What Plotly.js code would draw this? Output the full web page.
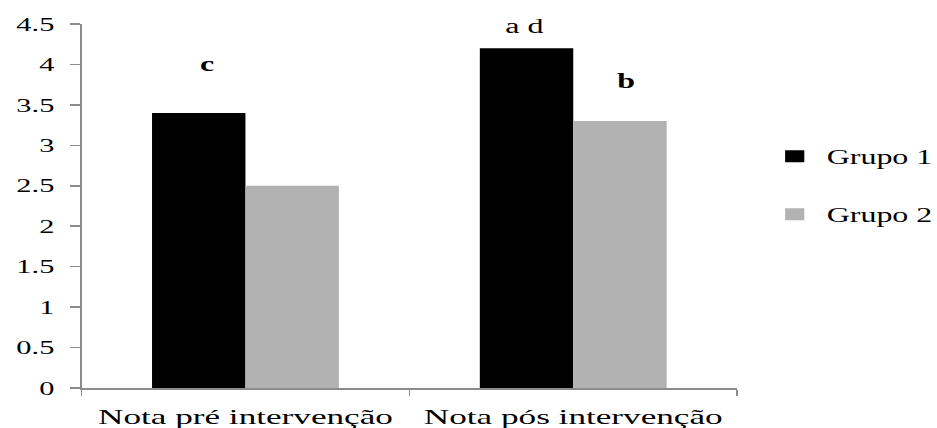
<!DOCTYPE html>
<html>
<head>
<meta charset="utf-8">
<script src="https://cdn.plot.ly/plotly-3.0.1.min.js"></script>
<style>
html,body{margin:0;padding:0;background:#fff;overflow:hidden;width:937px;height:428px;}
#chart{width:586px;height:428px;transform:scaleX(1.599);transform-origin:0 0;}
</style>
</head>
<body>
<div id="chart"></div>
<script>
const categories = ["Nota pré intervenção", "Nota pós intervenção"];
const seriesNames = ["Grupo 1", "Grupo 2"];
const grupo1 = [3.4, 4.2];
const grupo2 = [2.5, 3.3];
const yTicks = [0, 0.5, 1, 1.5, 2, 2.5, 3, 3.5, 4, 4.5];
const yTickLabels = ["0", "0.5", "1", "1.5", "2", "2.5", "3", "3.5", "4", "4.5"];
// significance letters: category index, series index, label, y
const sigCat = [0, 1, 1];
const sigSeries = [0, 0, 1];
const sigText = ["c", "a d", "b"];
const sigY = [3.85, 4.32, 3.64];

const bargap = 0.43;
const barW = (1 - bargap) / 2;
const serif = "'Liberation Serif', 'Times New Roman', serif";
const sigShift = [5, -1, 4];

const traces = [
  {type: "bar", x: categories, y: grupo1, name: seriesNames[0], legendgroup: "g1",
   marker: {color: "#000000"}},
  {type: "bar", x: categories, y: grupo2, name: seriesNames[1], legendgroup: "g2",
   marker: {color: "#b2b2b2"}}
];

const annotations = sigText.map((t, i) => ({
  x: sigCat[i] + (sigSeries[i] === 0 ? -barW / 2 : barW / 2),
  y: sigY[i], xref: "x", yref: "y", text: t, showarrow: false,
  yanchor: "bottom", xshift: sigShift[i],
  font: {family: serif, size: 20, color: "#000", weight: t === "a d" ? "normal" : "bold"}
}));

const layout = {
  width: 586, height: 428,
  margin: {l: 51, r: 125, t: 24, b: 40},
  paper_bgcolor: "#fff", plot_bgcolor: "#fff",
  font: {family: serif},
  barmode: "group", bargap: bargap, bargroupgap: 0,
  showlegend: true,
  legend: {xref: "container", yref: "container", x: 0.814, y: 0.567,
           xanchor: "left", yanchor: "middle",
           font: {family: serif, size: 20, color: "#000"},
           traceorder: "grouped", tracegroupgap: 29, itemwidth: 30},
  xaxis: {type: "category", showline: true, linecolor: "#8c8c8c", linewidth: 1.6,
          ticks: "outside", tickson: "boundaries", ticklen: 6, tickcolor: "#8c8c8c", tickwidth: 1,
          ticklabelstandoff: 8,
          tickfont: {family: serif, size: 22, color: "#000"}, showgrid: false, zeroline: false},
  yaxis: {range: [0, 4.5], tickvals: yTicks, ticktext: yTickLabels,
          showline: true, linecolor: "#8c8c8c", linewidth: 1.2,
          ticks: "outside", ticklen: 6, tickcolor: "#8c8c8c", tickwidth: 1.5,
          ticklabelstandoff: 6,
          tickfont: {family: serif, size: 19, color: "#000"},
          showgrid: false, zeroline: false},
  annotations: annotations
};

Plotly.newPlot("chart", traces, layout, {displayModeBar: false, staticPlot: true});
</script>
</body>
</html>
